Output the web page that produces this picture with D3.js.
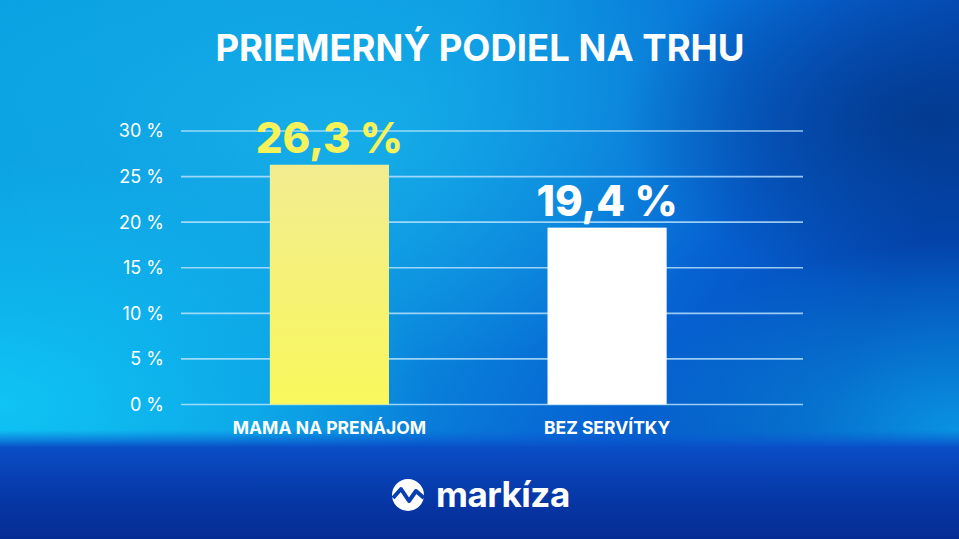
<!DOCTYPE html>
<html>
<head>
<meta charset="utf-8">
<script src="https://cdn.jsdelivr.net/npm/d3@7"></script>
<style>
  html, body { margin: 0; padding: 0; background: #0a5cd0; }
  svg { display: block; }
  text { font-family: "Inter", "Lato", sans-serif; fill: #fff; }
</style>
</head>
<body>
<div id="chart"></div>
<script>
var categories = ["MAMA NA PRENÁJOM", "BEZ SERVÍTKY"];
var values = [26.3, 19.4];
var barColors = ["url(#yellowBar)", "#ffffff"];
var labelColors = ["#f6f25a", "#ffffff"];
var yTicks = [0, 5, 10, 15, 20, 25, 30];
var title = "PRIEMERNÝ PODIEL NA TRHU";

var W = 959, H = 539;

var svg = d3.select("#chart").append("svg")
    .attr("width", W)
    .attr("height", H);

var defs = svg.append("defs");

// background gradients
var base = defs.append("linearGradient").attr("id", "bgBase")
    .attr("x1", 0).attr("y1", 0).attr("x2", 1).attr("y2", 0.3);
base.append("stop").attr("offset", "0%").attr("stop-color", "#0aa2e2");
base.append("stop").attr("offset", "45%").attr("stop-color", "#0b97e0");
base.append("stop").attr("offset", "80%").attr("stop-color", "#0662d2");
base.append("stop").attr("offset", "100%").attr("stop-color", "#0347b4");

var glowL = defs.append("radialGradient").attr("id", "glowL")
    .attr("cx", 0).attr("cy", 0.75).attr("r", 0.45);
glowL.append("stop").attr("offset", "0%").attr("stop-color", "#10c8f6").attr("stop-opacity", 0.9);
glowL.append("stop").attr("offset", "100%").attr("stop-color", "#10c8f6").attr("stop-opacity", 0);

var glowC = defs.append("radialGradient").attr("id", "glowC")
    .attr("cx", 0.35).attr("cy", 0.25).attr("r", 0.45);
glowC.append("stop").attr("offset", "0%").attr("stop-color", "#1ab6ec").attr("stop-opacity", 0.7);
glowC.append("stop").attr("offset", "100%").attr("stop-color", "#1ab6ec").attr("stop-opacity", 0);

var glowR = defs.append("radialGradient").attr("id", "glowR")
    .attr("cx", 1).attr("cy", 0.8).attr("r", 0.35);
glowR.append("stop").attr("offset", "0%").attr("stop-color", "#0aa0ea").attr("stop-opacity", 0.85);
glowR.append("stop").attr("offset", "100%").attr("stop-color", "#0aa0ea").attr("stop-opacity", 0);

var darkTR = defs.append("radialGradient").attr("id", "darkTR")
    .attr("cx", 0.97).attr("cy", 0.22).attr("r", 0.32);
darkTR.append("stop").attr("offset", "0%").attr("stop-color", "#033a8e").attr("stop-opacity", 0.95);
darkTR.append("stop").attr("offset", "100%").attr("stop-color", "#033a8e").attr("stop-opacity", 0);

var floor = defs.append("linearGradient").attr("id", "floor")
    .attr("x1", 0).attr("y1", 0).attr("x2", 0).attr("y2", 1);
floor.append("stop").attr("offset", "0%").attr("stop-color", "#0a60d6").attr("stop-opacity", 0);
floor.append("stop").attr("offset", "16%").attr("stop-color", "#0a4ec6").attr("stop-opacity", 1);
floor.append("stop").attr("offset", "60%").attr("stop-color", "#0638a8").attr("stop-opacity", 1);
floor.append("stop").attr("offset", "100%").attr("stop-color", "#062c92").attr("stop-opacity", 1);

var yellow = defs.append("linearGradient").attr("id", "yellowBar")
    .attr("x1", 0).attr("y1", 0).attr("x2", 0).attr("y2", 1);
yellow.append("stop").attr("offset", "0%").attr("stop-color", "#f2ec90");
yellow.append("stop").attr("offset", "100%").attr("stop-color", "#f9f85c");

svg.append("rect").attr("width", W).attr("height", H).attr("fill", "url(#bgBase)");
svg.append("rect").attr("width", W).attr("height", H).attr("fill", "url(#glowC)");
svg.append("rect").attr("width", W).attr("height", H).attr("fill", "url(#darkTR)");
svg.append("rect").attr("width", W).attr("height", H).attr("fill", "url(#glowL)");
svg.append("rect").attr("width", W).attr("height", H).attr("fill", "url(#glowR)");
svg.append("rect").attr("x", 0).attr("y", 430).attr("width", W).attr("height", H - 430)
    .attr("fill", "url(#floor)");

/* scales */
var gridLeft = 181, gridRight = 803;

var y = d3.scaleLinear()
    .domain([0, 30])
    .range([404.5, 131]);

var x = d3.scaleBand()
    .domain(categories)
    .range([gridLeft, 755.5])
    .paddingInner(0.571)
    .paddingOuter(0.32);

// gridlines
svg.append("g")
    .selectAll("line")
    .data(yTicks)
    .enter().append("line")
    .attr("x1", gridLeft)
    .attr("x2", gridRight)
    .attr("y1", function(d) { return y(d); })
    .attr("y2", function(d) { return y(d); })
    .attr("stroke", "#bfe6ff")
    .attr("stroke-opacity", 0.8)
    .attr("stroke-width", 1.6);

// y axis labels
svg.append("g")
    .selectAll("text")
    .data(yTicks)
    .enter().append("text")
    .attr("x", 164)
    .attr("y", function(d) { return y(d); })
    .attr("dy", "0.36em")
    .attr("text-anchor", "end")
    .style("font-size", "18px")
    .style("font-weight", 400)
    .text(function(d) { return d + " %"; });

// bars
var fmt = function(v) { return d3.format(".1f")(v).replace(".", ",") + " %"; };

svg.append("g")
    .selectAll("rect")
    .data(values)
    .enter().append("rect")
    .attr("x", function(d, i) { return x(categories[i]); })
    .attr("y", function(d) { return y(d); })
    .attr("width", x.bandwidth())
    .attr("height", function(d) { return y(0) - y(d); })
    .attr("fill", function(d, i) { return barColors[i]; });

// value labels
svg.append("g")
    .selectAll("text")
    .data(values)
    .enter().append("text")
    .attr("x", function(d, i) { return x(categories[i]) + x.bandwidth() / 2; })
    .attr("y", function(d) { return y(d) - 12; })
    .attr("text-anchor", "middle")
    .style("font-size", "42px")
    .style("font-weight", 800)
    .style("fill", function(d, i) { return labelColors[i]; })
    .text(fmt);

// category labels
svg.append("g")
    .selectAll("text")
    .data(categories)
    .enter().append("text")
    .attr("x", function(d) { return x(d) + x.bandwidth() / 2; })
    .attr("y", 434)
    .attr("text-anchor", "middle")
    .style("font-size", "17.5px")
    .style("font-weight", 700)
    .text(function(d) { return d; });

// title
svg.append("text")
    .attr("x", 480)
    .attr("y", 61)
    .attr("text-anchor", "middle")
    .style("font-size", "36.5px")
    .style("font-weight", 700)
    .text(title);

/* logo */
var logo = svg.append("g").attr("transform", "translate(408,495)");
logo.append("circle").attr("r", 16).attr("fill", "#fff");
logo.append("path")
    .attr("d", "M-15,3 L-7,-6 L1,6 L8,-4 L16,3")
    .attr("fill", "none")
    .attr("stroke", "#0a3fb0")
    .attr("stroke-width", 4)
    .attr("stroke-linejoin", "round");

svg.append("text")
    .attr("x", 436)
    .attr("y", 507)
    .style("font-size", "35px")
    .style("font-weight", 700)
    .style("letter-spacing", "-0.5px")
    .text("markíza");
</script>
</body>
</html>
